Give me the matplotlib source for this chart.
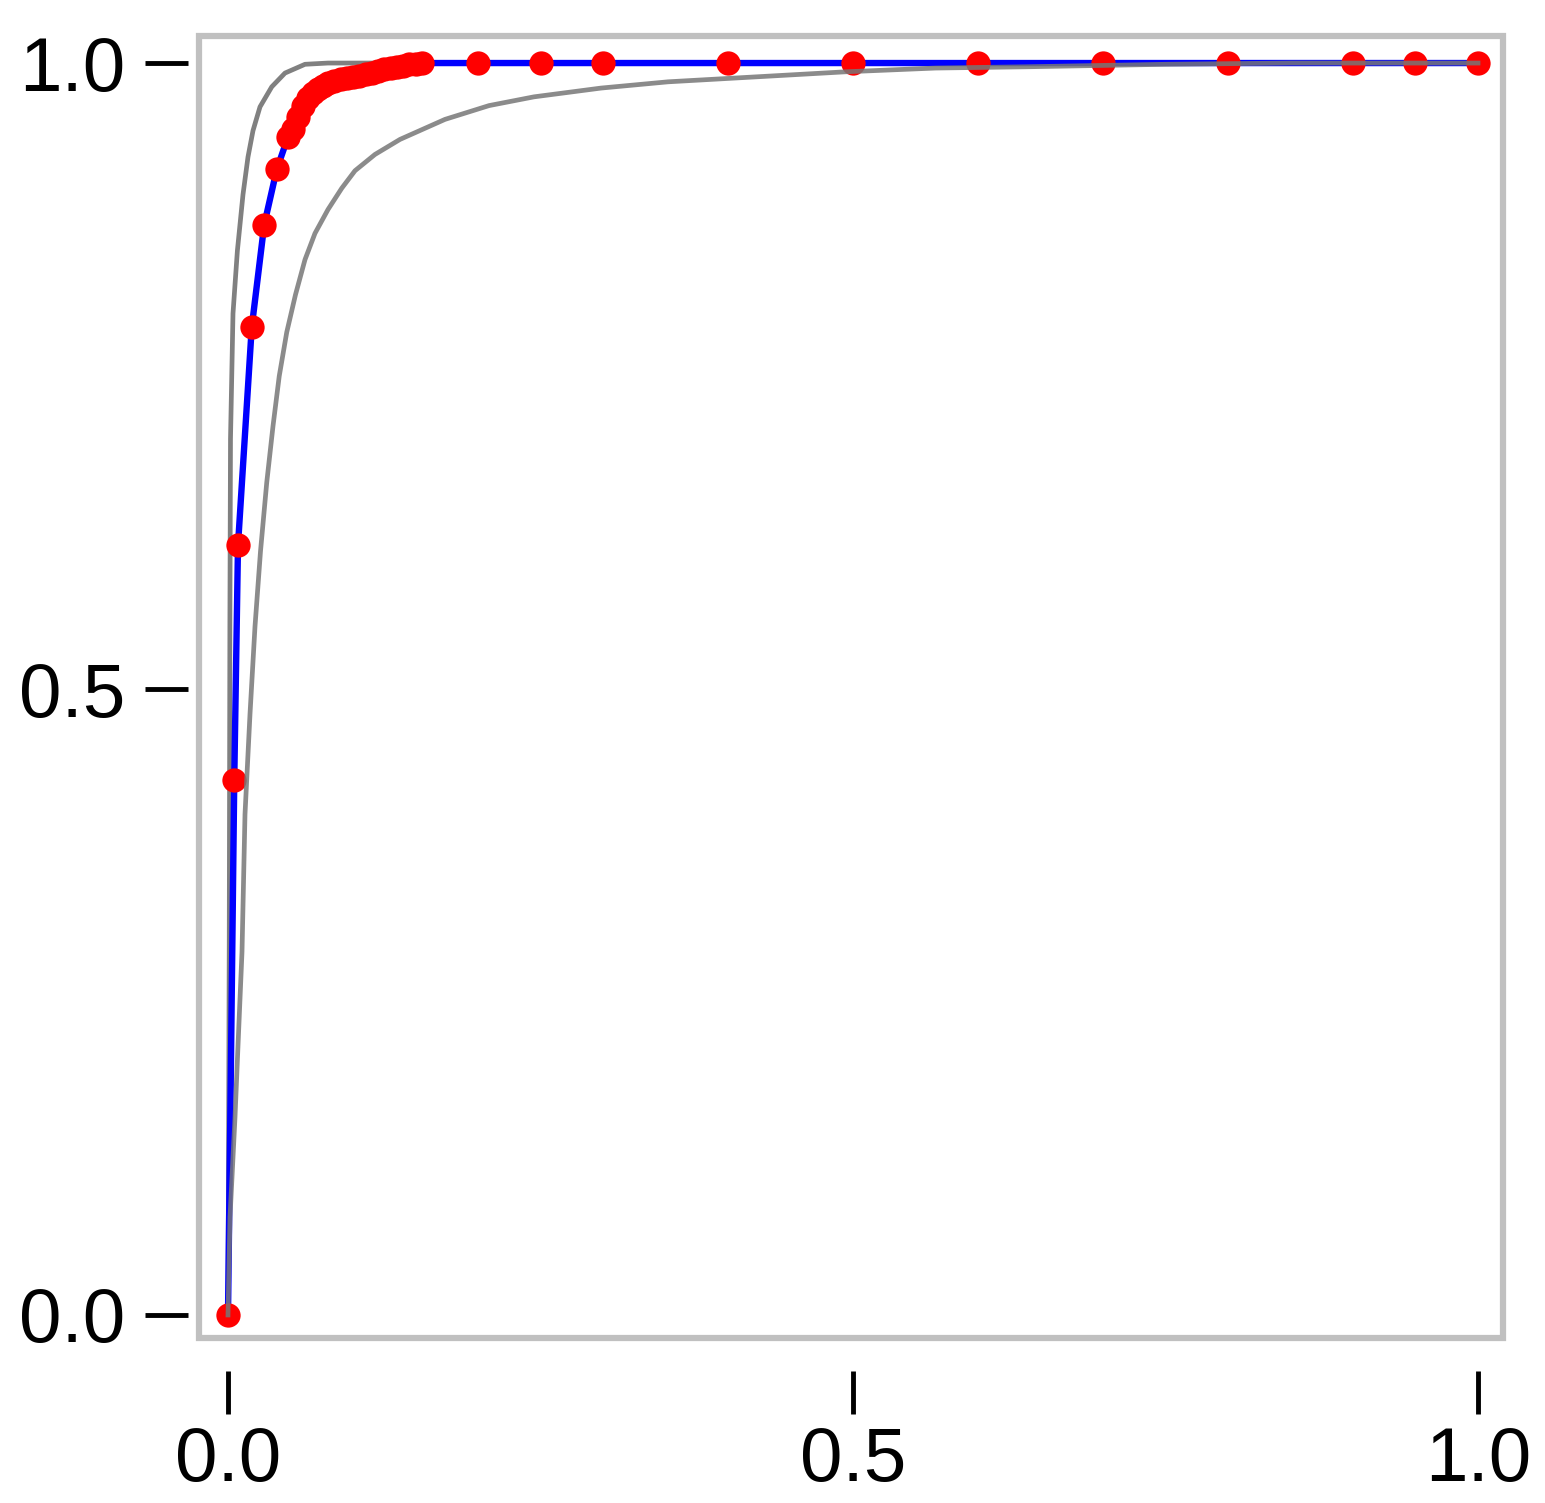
import matplotlib
matplotlib.use("Agg")
import matplotlib.pyplot as plt
from matplotlib.patches import Rectangle

# ROC-like curve (points)
fpr = [0.0, 0.005, 0.008, 0.019, 0.029, 0.039, 0.048,
       0.052, 0.056, 0.060, 0.064, 0.068, 0.072, 0.076, 0.080, 0.085, 0.090,
       0.095, 0.100, 0.105, 0.110, 0.115, 0.120, 0.125, 0.130, 0.135, 0.140,
       0.145, 0.150, 0.155,
       0.2, 0.25, 0.3, 0.4, 0.5, 0.6, 0.7, 0.8, 0.9, 0.95, 1.0]
tpr = [0.0, 0.427, 0.615, 0.789, 0.871, 0.915, 0.941,
       0.947, 0.957, 0.966, 0.972, 0.976, 0.979, 0.982, 0.984, 0.986, 0.987,
       0.988, 0.989, 0.990, 0.991, 0.992, 0.994, 0.995, 0.996, 0.997, 0.998,
       0.999, 0.9995, 1.0,
       1.0, 1.0, 1.0, 1.0, 1.0, 1.0, 1.0, 1.0, 1.0, 1.0, 1.0]

# upper confidence band
upper_x = [0.0, 0.001, 0.0015, 0.002, 0.004, 0.0075, 0.012, 0.016, 0.020,
           0.0256, 0.035, 0.0456, 0.0616, 0.08, 0.12, 1.0]
upper_y = [0.0, 0.30, 0.55, 0.70, 0.80, 0.85, 0.895, 0.925, 0.946,
           0.965, 0.981, 0.992, 0.999, 1.0, 1.0, 1.0]

# lower confidence band
lower_x = [0.0, 0.0016, 0.0056, 0.008, 0.0112, 0.0136, 0.0176, 0.0216,
           0.026, 0.031, 0.036, 0.041, 0.047, 0.054, 0.0616, 0.0696, 0.080,
           0.091, 0.1016, 0.1176, 0.1376, 0.1736, 0.2088, 0.2448, 0.2984,
           0.352, 0.423, 0.494, 0.566, 0.638, 0.75, 0.85, 1.0]
lower_y = [0.0, 0.078, 0.158, 0.215, 0.29, 0.40, 0.48, 0.55,
           0.61, 0.665, 0.71, 0.75, 0.785, 0.815, 0.843, 0.864, 0.883,
           0.900, 0.914, 0.927, 0.939, 0.955, 0.966, 0.973, 0.980,
           0.985, 0.989, 0.993, 0.996, 0.997, 0.999, 1.0, 1.0]

tick_vals = [0.0, 0.5, 1.0]
tick_labels = ["0.0", "0.5", "1.0"]

W, H, DPI = 1545, 1503, 100
fig = plt.figure(figsize=(W / DPI, H / DPI), dpi=DPI)
fig.patch.set_facecolor("white")

left_px, right_px, top_px, bottom_px = 199, 1503, 36, 1338
ax = fig.add_axes([left_px / W, (H - bottom_px) / H,
                   (right_px - left_px) / W, (bottom_px - top_px) / H])

ax.plot(upper_x, upper_y, color="#808080", lw=3.4, zorder=2,
        solid_joinstyle="round")
ax.plot(fpr, tpr, color="#0000ff", lw=4.6, zorder=3)
ax.plot(fpr, tpr, linestyle="none", marker="o", markersize=17.5,
        color="#ff0000", markeredgewidth=0, zorder=4)
ax.plot(lower_x, lower_y, color="#777777", lw=3.4, alpha=0.85, zorder=5,
        solid_joinstyle="round")

ax.set_xlim(-0.0232, 1.02)
ax.set_ylim(-0.0184, 1.0216)

for s in ax.spines.values():
    s.set_visible(False)
ax.spines["left"].set_position(("outward", 8))
ax.spines["bottom"].set_position(("outward", 24))

ax.add_patch(Rectangle((0, 0), 1, 1, transform=ax.transAxes, fill=False,
                       edgecolor="#c0c0c0", lw=4.5, zorder=10, clip_on=False))

font = ["Liberation Sans", "DejaVu Sans"]
ax.set_xticks(tick_vals)
ax.set_xticklabels(tick_labels, family=font, fontsize=55)
ax.set_yticks(tick_vals)
ax.set_yticklabels(tick_labels, family=font, fontsize=55)
ax.tick_params(axis="both", direction="out", length=31, width=3.5,
               color="black")
ax.tick_params(axis="y", pad=14)
ax.tick_params(axis="x", pad=8)

fig.savefig("out.png", dpi=DPI, facecolor="white")
